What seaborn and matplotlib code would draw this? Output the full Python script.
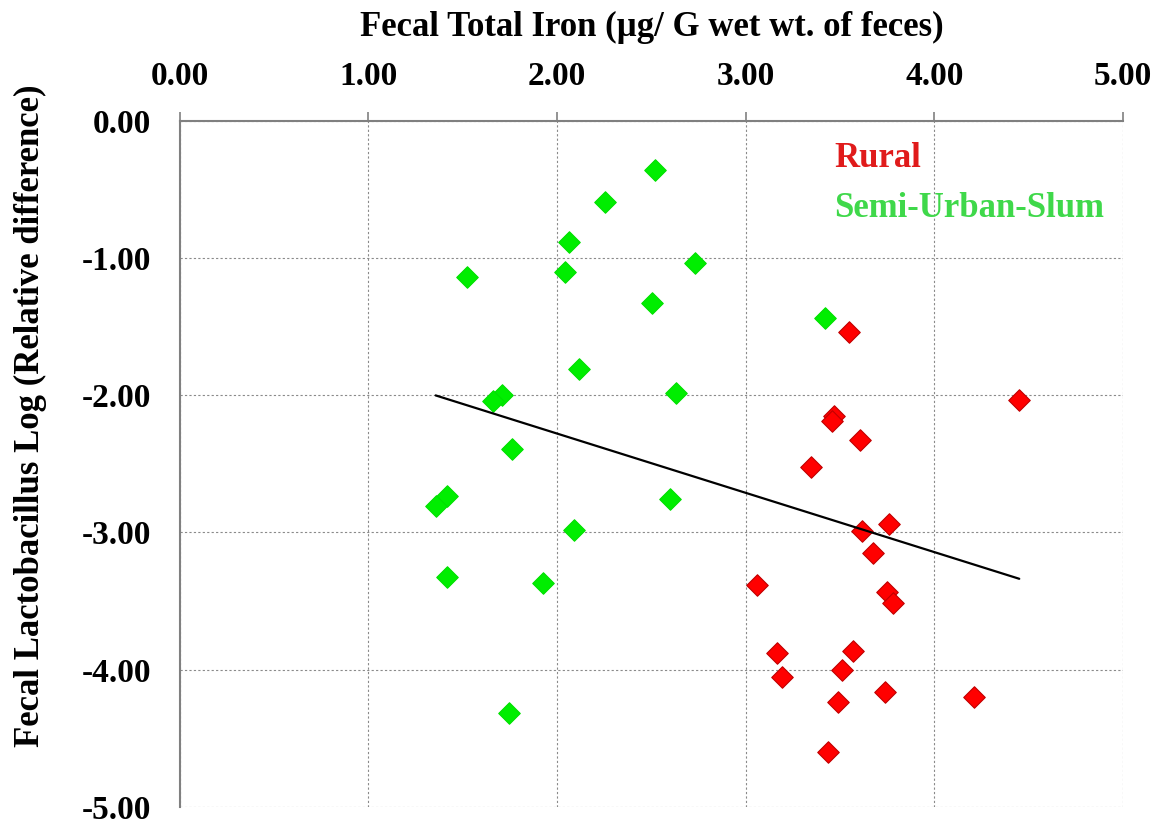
import numpy as np
import pandas as pd
import matplotlib
matplotlib.use("Agg")
import matplotlib.pyplot as plt
import seaborn as sns

# ---- data ----
green_x = [2.52, 2.254, 2.062, 2.733, 1.523, 2.044, 2.502, 2.115, 2.631, 1.707, 1.662,
           1.763, 1.415, 1.357, 2.597, 2.09, 1.415, 1.927, 1.746, 3.422]
green_y = [-0.36, -0.594, -0.88, -1.038, -1.135, -1.103, -1.329, -1.81, -1.984, -1.996, -2.045,
           -2.39, -2.737, -2.81, -2.756, -2.979, -3.323, -3.367, -4.313, -1.434]
red_x = [3.549, 4.45, 3.466, 3.457, 3.606, 3.344, 3.758, 3.618, 3.675, 3.058, 3.749, 3.782,
         3.166, 3.567, 3.191, 3.509, 3.74, 4.211, 3.491, 3.435]
red_y = [-1.54, -2.038, -2.154, -2.19, -2.326, -2.525, -2.935, -2.99, -3.148, -3.379, -3.432, -3.517,
         -3.881, -3.865, -4.051, -4.003, -4.16, -4.197, -4.233, -4.6]
groups = ["Rural", "Semi-Urban-Slum"]
x_ticks = [0, 1, 2, 3, 4, 5]
y_ticks = [0, -1, -2, -3, -4, -5]
x_label = "Fecal Total Iron (\u00b5g/ G wet wt. of feces)"
y_label = "Fecal Lactobacillus Log (Relative difference)"

df = pd.DataFrame({
    "x": red_x + green_x,
    "y": red_y + green_y,
    "group": [groups[0]] * len(red_x) + [groups[1]] * len(green_x),
})

sns.set_theme(style="white")
plt.rcParams["font.family"] = ["Liberation Serif", "DejaVu Serif"]
plt.rcParams["font.weight"] = "bold"
plt.rcParams["axes.unicode_minus"] = False
plt.rcParams["text.color"] = "black"
plt.rcParams["axes.labelcolor"] = "black"
plt.rcParams["xtick.color"] = "black"
plt.rcParams["ytick.color"] = "black"

fig = plt.figure(figsize=(11.64, 8.27), dpi=100)
ax = fig.add_axes([0.1543, 0.0242, 0.8105, 0.8298])

ax.set_axisbelow(True)
ax.grid(True, color="#8a8a8a", linestyle=(0, (2, 2)), linewidth=0.8)

palette = {"Rural": "#ff0000", "Semi-Urban-Slum": "#00ee00"}
edges = {"Rural": "#c00000", "Semi-Urban-Slum": "#00e000"}
for g in groups:
    sub = df[df["group"] == g]
    sns.scatterplot(data=sub, x="x", y="y", color=palette[g], marker="D", s=120,
                    edgecolor=edges[g], linewidth=0.8, ax=ax, legend=False, zorder=3)

sns.regplot(data=df, x="x", y="y", scatter=False, ci=None, truncate=True,
            line_kws={"color": "black", "linewidth": 1.6, "zorder": 4}, ax=ax)

ax.set_xlim(0, 5)
ax.set_ylim(-5, 0)
ax.set_xticks(x_ticks)
ax.set_yticks(y_ticks)
ax.xaxis.set_major_formatter(matplotlib.ticker.FormatStrFormatter("%.2f"))
ax.yaxis.set_major_formatter(matplotlib.ticker.FormatStrFormatter("%.2f"))
ax.xaxis.tick_top()
ax.xaxis.set_label_position("top")
ax.tick_params(axis="both", which="major", direction="out", length=6.5, width=1.2,
               color="#808080", labelcolor="black", labelsize=24, pad=14)
for lab in ax.get_xticklabels() + ax.get_yticklabels():
    lab.set_fontweight("bold")

for side in ["right", "bottom"]:
    ax.spines[side].set_visible(False)
for side in ["top", "left"]:
    ax.spines[side].set_visible(True)
    ax.spines[side].set_color("#808080")
    ax.spines[side].set_linewidth(1.5)

ax.set_xlabel(x_label, fontsize=25, fontweight="bold", labelpad=18, color="black")
ax.set_ylabel(y_label, fontsize=25, fontweight="bold", color="black")
ax.yaxis.set_label_coords(-0.141, 0.57)

ax.text(0.694, 0.9457, groups[0], transform=ax.transAxes, color="#e01b1b",
        fontsize=25, fontweight="bold", va="center", ha="left")
ax.text(0.694, 0.8716, groups[1], transform=ax.transAxes, color="#3fd84a",
        fontsize=25, fontweight="bold", va="center", ha="left")

fig.savefig("out.png", dpi=100)
